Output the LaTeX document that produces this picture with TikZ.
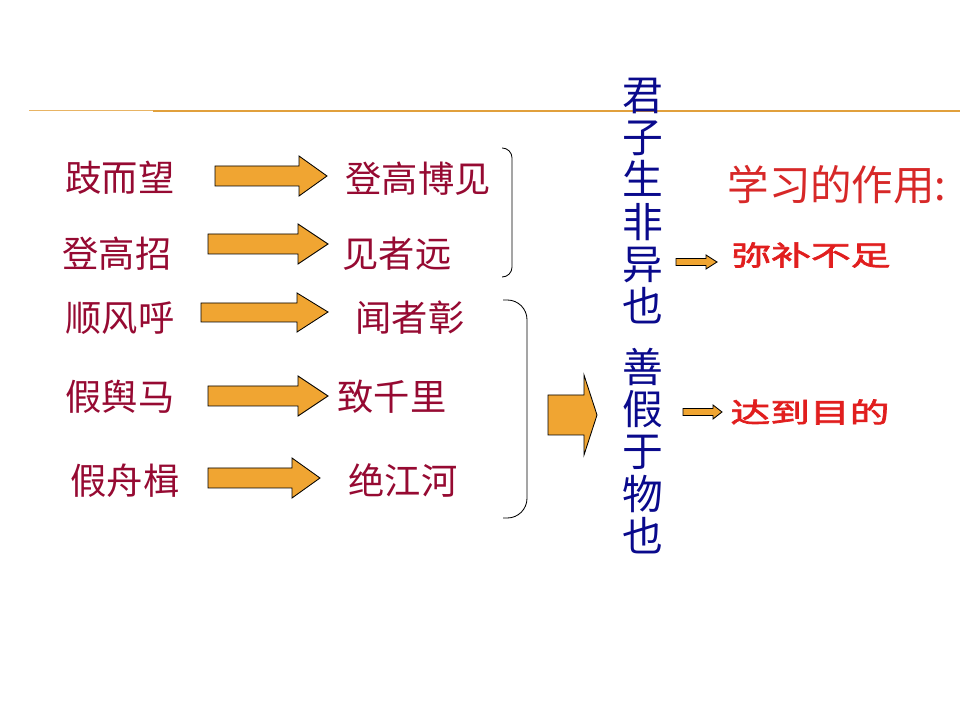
\documentclass[tikz,border=0pt]{standalone}
\usepackage{fontspec}
\usepackage{xcolor}
\usepackage{tikz}
\usetikzlibrary{positioning, calc}
\setmainfont{Noto Sans CJK SC}
\newfontfamily\cjkwide[FakeStretch=1.45,FakeBold=2.5]{Noto Sans CJK SC}
\definecolor{mycrimson}{RGB}{150,10,50}
\definecolor{mynavy}{RGB}{10,10,140}
\definecolor{myred}{RGB}{215,40,40}
\definecolor{mybright}{RGB}{225,30,30}
\definecolor{myorange}{RGB}{240,165,50}
\definecolor{myrule}{RGB}{225,160,60}
\definecolor{mylight}{RGB}{232,180,100}
\tikzset{
  pairtxt/.style={font=\fontsize{25.8}{28}\selectfont, text=mycrimson, inner sep=0pt},
  vtxt/.style={font=\fontsize{29}{30}\selectfont, text=mynavy, align=center, inner sep=0pt},
  titletxt/.style={font=\fontsize{29.5}{31}\selectfont, text=myred, inner sep=0pt},
  boldtxt/.style={font=\cjkwide\fontsize{19.5}{22}\selectfont, text=mybright, inner sep=0pt},
  fatarrow/.style={fill=myorange, draw=black, line width=0.6pt},
  bracket/.style={draw=black, line width=0.6pt}
}
\begin{document}
\begin{tikzpicture}[x=0.025cm, y=-0.025cm]
  \useasboundingbox[fill=white] (0,0) rectangle (960,720);
  % Rule under the title
  \draw[mylight, line width=0.7pt] (29,110) -- (153,110);
  \draw[myrule, line width=1.8pt] (153,111) -- (960,111);
  % Left column
  \node[pairtxt] (qi)      at (120,178) {跂而望};
  \node[pairtxt] (zhao)    at (117,254) {登高招};
  \node[pairtxt] (shun)    at (120,318) {顺风呼};
  \node[pairtxt] (yuma)    at (120,397) {假舆马};
  \node[pairtxt] (zhouji)  at (125,481) {假舟楫};
  % Right column
  \node[pairtxt] (bojian)  at (418,179) {登高博见};
  \node[pairtxt] (yuan)    at (397,254) {见者远};
  \node[pairtxt] (zhang)   at (410,318) {闻者彰};
  \node[pairtxt] (qianli)  at (392,397) {致千里};
  \node[pairtxt] (jianghe) at (403,480) {绝江河};
  % Arrows between the pairs
  \draw[fatarrow] (215,166) -- (299,166) -- (299,156) -- (327,176) -- (299,196) -- (299,186) -- (215,186) -- cycle;
  \draw[fatarrow] (208,234) -- (298,234) -- (298,224) -- (328,244) -- (298,264) -- (298,254) -- (208,254) -- cycle;
  \draw[fatarrow] (201,303) -- (297,303) -- (297,293) -- (328,312) -- (297,332) -- (297,322) -- (201,322) -- cycle;
  \draw[fatarrow] (208,386) -- (298,386) -- (298,376) -- (328,396) -- (298,416) -- (298,406) -- (208,406) -- cycle;
  \draw[fatarrow] (208,468) -- (292,468) -- (292,458) -- (320,478) -- (292,498) -- (292,488) -- (208,488) -- cycle;
  % Brackets
  \draw[bracket, rounded corners=7pt] (503,148) -- (512,148) -- (512,277) -- (503,277);
  \draw[bracket, rounded corners=14pt] (503,300) -- (527,300) -- (527,518) -- (503,518);
  % Big arrow
  \draw[fatarrow] (548,395) -- (584,395) -- (584,375) -- (597,415) -- (584,455) -- (584,435) -- (548,435) -- cycle;
  % Vertical sayings
  \node[vtxt] (junzi) at (643,201) {君\\子\\生\\非\\异\\也};
  \node[vtxt] (shanjia) at (643,451) {善\\假\\于\\物\\也};
  % Effects of study
  \node[titletxt] (zuoyong) at (837,185) {学习的作用:};
  \draw[fatarrow] (676,258.5) -- (706,258.5) -- (706,255) -- (717,262) -- (706,269) -- (706,265.5) -- (676,265.5) -- cycle;
  \node[boldtxt] (mibu) at (811,255) {弥补不足};
  \draw[fatarrow] (683,408.5) -- (713,408.5) -- (713,405) -- (722,412) -- (713,419) -- (713,415.5) -- (683,415.5) -- cycle;
  \node[boldtxt] (dadao) at (810,412) {达到目的};
\end{tikzpicture}
\end{document}
